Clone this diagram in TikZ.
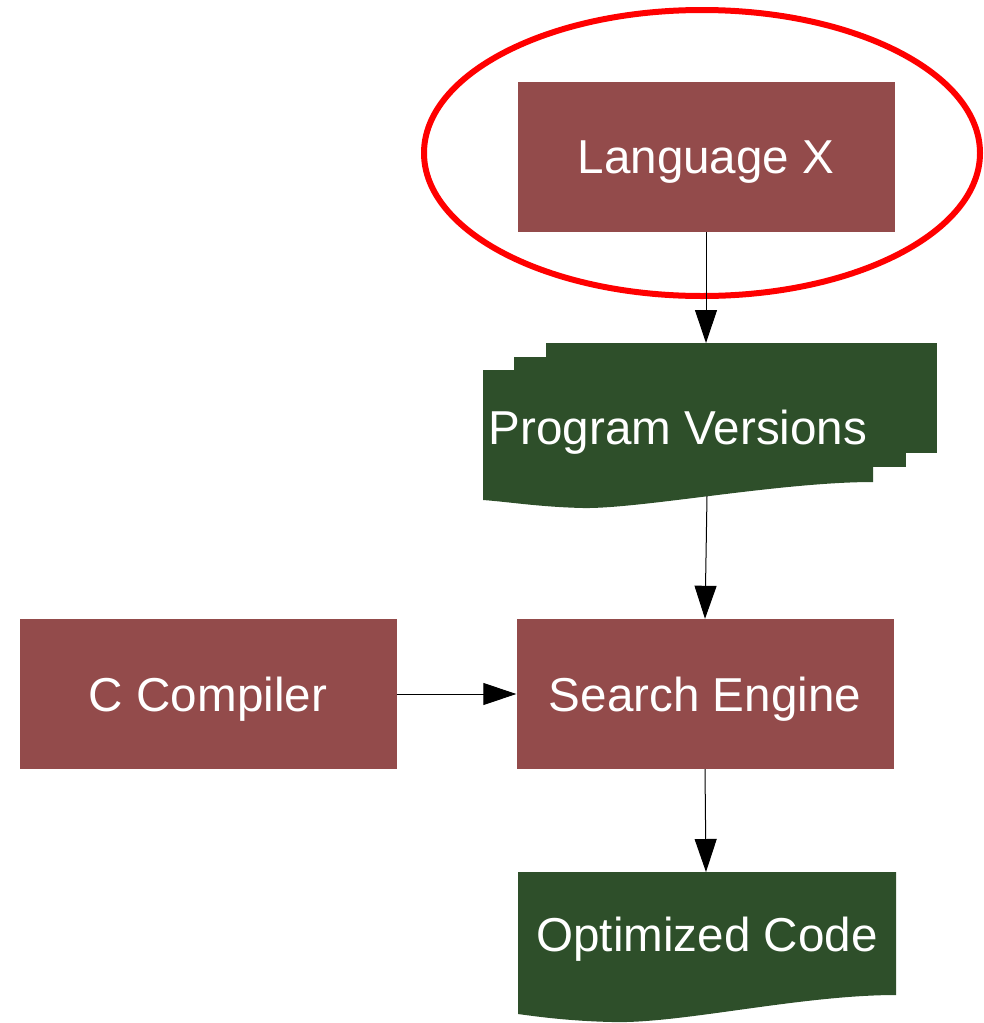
\documentclass[tikz,border=0pt]{standalone}
\usepackage{fontspec}
\setmainfont{Liberation Sans}
\usetikzlibrary{arrows.meta}
\definecolor{boxred}{RGB}{147,75,75}
\definecolor{docgreen}{RGB}{46,79,42}
\tikzset{
BOX/.style={draw=none,fill=boxred,minimum width=377pt,minimum height=150pt,inner sep=0pt},
DOC/.style={draw=none,fill=docgreen},
LABEL/.style={text=white,inner sep=0pt,text depth=0pt,font=\fontsize{47.6}{57}\selectfont},
EDGE/.style={draw=black,line width=1pt,-{Triangle[length=33pt,width=22pt]}},
RING/.style={draw=red,line width=6pt},
}
\begin{document}
\begin{tikzpicture}[x=1pt,y=-1pt] %pixel grid, y downwards
	\useasboundingbox (0,0) rectangle (984,1023);
	% boxes
	\node[BOX,LABEL] (lx) at (706,157) {Language X};
	\node[BOX,LABEL] (se) at (705,694) {Search Engine};
	\node[BOX,LABEL] (cc) at (208,694) {C Compiler};
	\draw[RING] (702,153) ellipse [x radius=278, y radius=143];
	% program versions, three sheets
	\path[DOC] (546,343) rectangle (937,453);
	\path[DOC] (514,357) rectangle (906,467);
	\path[DOC] (483,370) -- (873,370) -- (873,482) .. controls (780,482) and (640,509) .. (583,508) .. controls (540,507) and (510,502) .. (483,500) -- cycle;
	\node[LABEL] (pv) at (678,427) {Program Versions};
	\coordinate (pvtop) at (706,343);
	\coordinate (pvbot) at (707,496);
	% optimized code
	\path[DOC] (518,872) -- (896,872) -- (896,995) .. controls (800,995) and (680,1024) .. (612,1022) .. controls (570,1021) and (540,1017) .. (518,1014) -- cycle;
	\node[LABEL] (oc) at (707,934) {Optimized Code};
	\coordinate (octop) at (706,872);
	% connectors
	\path[EDGE] (lx.south) -- (pvtop);
	\path[EDGE] (pvbot) -- (se.north);
	\path[EDGE] (cc.east) -- (se.west);
	\path[EDGE] (se.south) -- (octop);
\end{tikzpicture}
\end{document}
